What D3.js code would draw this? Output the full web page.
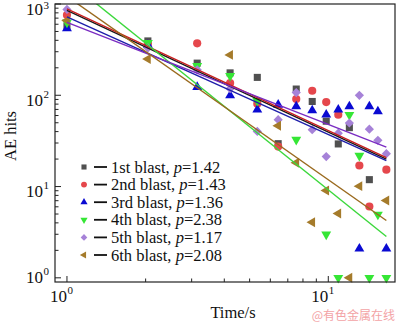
<!DOCTYPE html>
<meta charset="utf-8">
<style>body{margin:0;background:#fff}</style>
<svg width="400" height="322"></svg>
<script src="https://cdnjs.cloudflare.com/ajax/libs/d3/7.8.5/d3.min.js"></script>
<script>
// time points (s) and AE hits per blast
const times  = [1, 2.04, 3.15, 4.21, 5.35, 6.43, 7.54, 8.68, 9.82, 10.92, 12.04, 13.15, 14.36, 15.48, 16.68]
const blast1 = [575, 394, 225, 176, 157, 29.5, 117, 85.5, 52, 29.3, 44.2, null, 11.9, null, null]
const blast2 = [758, 366, 371, 136, 81, 27.4, 91, 112, 84.3, 61.2, null, 17, 6.05, null, 15.3]
const blast3 = [540, 357, 123, 99.5, 69.5, 78.7, 75.5, 68.2, 61.2, 69.5, 75.5, 2.09, 75.5, 66.5, 2.09]
const blast4 = [628, 375, 210, 163, 87, null, 32.6, null, 2.99, 1, 61.2, 21.8, 1, 4.94, 1]
const blast5 = [871, 330, 190, 118, 40.2, 54, 107, 42, 21.3, 38.4, 49.7, 100, 42.5, 32.1, 22.9]
const blast6 = [660, 250, null, 277, null, 46.4, 18.2, 4.07, 9.04, 5.07, 1, 10.1, null, null, 7.03]

// fitted power-law lines: value at first and last time
const fitStart = [849, 882, 721, 1830, 628, 1213]
const fitEnd   = [20.0, 20.7, 19.2, 2.84, 27.0, 4.25]

const ordinals = ["1st", "2nd", "3rd", "4th", "5th", "6th"]
const pValues  = ["1.42", "1.43", "1.36", "2.38", "1.17", "2.08"]
const xTicks = [1, 10]
const yTicks = [1, 10, 100, 1000]

const series = [blast1, blast2, blast3, blast4, blast5, blast6]
const markerColors = ["#505050", "#e5474c", "#0a0ad2", "#35e635", "#a682d8", "#a57b2b"]
const lineColors   = ["#1a1a1a", "#c81e1e", "#1e1eaa", "#3cd83c", "#7a2cc2", "#9a6a1e"]

const svg = d3.select('svg')
const L = 55, R = 395, T = 4, B = 282

const x = d3.scaleLog().domain([0.9, 18]).range([L, R])
const y = d3.scaleLog().domain([0.9, 1000]).range([B, T])

svg.append('clipPath').attr('id', 'plot')
  .append('rect').attr('x', L).attr('y', T).attr('width', R - L).attr('height', B - T)

// minor + major ticks, pointing inward
const tickG = svg.append('g').attr('stroke', '#222').attr('stroke-width', 1)
const xMinor = []
for (let d = 1; d <= 10; d *= 10) for (let k = 1; k <= 9; k++) { if (k * d <= 18) xMinor.push(k * d) }
xMinor.forEach(v => {
  const major = xTicks.includes(v)
  tickG.append('line').attr('x1', x(v)).attr('x2', x(v)).attr('y1', B).attr('y2', B - (major ? 6 : 3.5))
})
const yMinor = []
for (let d = 1; d <= 100; d *= 10) for (let k = 1; k <= 9; k++) yMinor.push(k * d)
yMinor.push(1000)
yMinor.forEach(v => {
  const major = yTicks.includes(v)
  tickG.append('line').attr('y1', y(v)).attr('y2', y(v)).attr('x1', L).attr('x2', L + (major ? 6 : 3.5))
})

// tick labels as 10^n
const lab = svg.append('g').attr('font-family', 'Liberation Serif').attr('fill', '#111')
yTicks.forEach(v => {
  const e = Math.round(Math.log10(v))
  const off = v === 1 ? 5.5 : 10.5   // bottom label sits a bit higher
  lab.append('text').attr('x', 43).attr('y', y(v) + off).attr('text-anchor', 'end')
    .attr('font-size', 17).text('10')
  lab.append('text').attr('x', 43.5).attr('y', Math.max(9, y(v) + off - 8)).attr('font-size', 11).text(e)
})
xTicks.forEach(v => {
  const e = Math.round(Math.log10(v))
  lab.append('text').attr('x', x(v)).attr('y', 302).attr('text-anchor', 'end')
    .attr('font-size', 17).text('10')
  lab.append('text').attr('x', x(v) + 0.5).attr('y', 294).attr('font-size', 11).text(e)
})

lab.append('text').attr('transform', 'translate(16,136) rotate(-90)').attr('text-anchor', 'middle')
  .attr('font-size', 16.5).text('AE hits')
lab.append('text').attr('x', 233).attr('y', 318).attr('text-anchor', 'middle')
  .attr('font-size', 16.5).text('Time/s')

svg.append('text').attr('x', 395).attr('y', 319.5).attr('text-anchor', 'end')
  .attr('font-family', 'Noto Sans CJK SC').attr('font-size', 12).attr('fill', '#f3a3a6')
  .text('@有色金属在线')

// marker shapes
function marker(sel, i, size) {
  const sym = [d3.symbolSquare, d3.symbolCircle, d3.symbolTriangle, d3.symbolTriangle, d3.symbolSquare, d3.symbolTriangle][i]
  const rot = [0, 0, 0, 180, 45, -90][i]
  const scale = [1, 1.05, 0.85, 0.85, 0.85, 0.85][i]
  sel.append('path')
    .attr('d', d3.symbol().type(sym).size(size * scale))
    .attr('fill', markerColors[i])
    .attr('transform', d => `translate(${d[0]},${d[1]}) rotate(${rot})`)
}

const pts = svg.append('g')
const fits = svg.append('g').attr('clip-path', 'url(#plot)')

series.forEach((vals, i) => {
  const t0 = times[0], t1 = times[times.length - 1]
  fits.append('line')
    .attr('x1', x(t0)).attr('y1', y(fitStart[i]))
    .attr('x2', x(t1)).attr('y2', y(fitEnd[i]))
    .attr('stroke', lineColors[i]).attr('stroke-width', 1.4)
})

series.forEach((vals, i) => {
  const data = times.map((t, j) => [t, vals[j]]).filter(d => d[1] != null)
    .map(d => [x(d[0]), y(d[1])])
  const g = pts.append('g')
  marker(g.selectAll('g').data(data).enter().append('g'), i, 50)
})

// frame
svg.append('rect').attr('x', L).attr('y', T).attr('width', R - L).attr('height', B - T)
  .attr('fill', 'none').attr('stroke', '#222').attr('stroke-width', 1.2)

// legend
const leg = svg.append('g')
series.forEach((vals, i) => {
  const cy = 167 + i * 17.6
  const row = leg.append('g')
  marker(row.selectAll('g').data([[84, cy]]).enter().append('g'), i, 26)
  row.append('line').attr('x1', 94).attr('x2', 107).attr('y1', cy).attr('y2', cy)
    .attr('stroke', '#111').attr('stroke-width', 1.8)
  const tx = row.append('text').attr('x', 111).attr('y', cy + 5.5)
    .attr('font-family', 'Liberation Serif').attr('font-size', 16.5).attr('fill', '#111')
  tx.append('tspan').text(ordinals[i] + ' blast, ')
  tx.append('tspan').attr('font-style', 'italic').text('p')
  tx.append('tspan').text('=' + pValues[i])
})
</script>
